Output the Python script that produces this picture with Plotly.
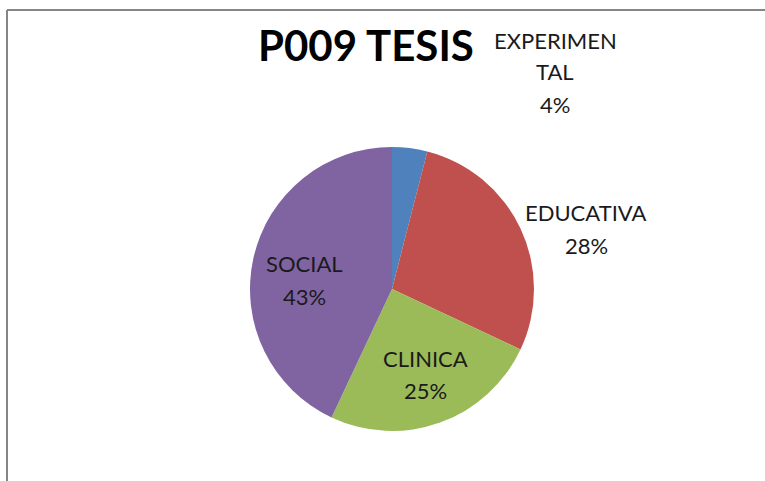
import plotly.graph_objects as go

# Data
categories = ["EXPERIMENTAL", "EDUCATIVA", "CLINICA", "SOCIAL"]
values = [4, 28, 25, 43]
colors = ["#4F81BD", "#C0504D", "#9BBB59", "#8064A2"]
title_text = "P009 TESIS"

W, H = 765, 481
total = sum(values)
pcts = [f"{round(v / total * 100)}%" for v in values]

# Display text lines for each slice (first label wraps like the original)
lines = [
    [categories[0][:9], categories[0][9:], pcts[0]],
    [categories[1], pcts[1]],
    [categories[2], pcts[2]],
    [categories[3], pcts[3]],
]
# label anchor positions in pixels (center x, list of line centers y)
label_pos = [
    (555, [40, 71, 104]),
    (586, [213, 245]),
    (425, [358, 390]),
    (304, [263, 296]),
]

cx, cy, r = 392, 289, 142

fig = go.Figure(
    go.Pie(
        labels=categories,
        values=values,
        sort=False,
        direction="clockwise",
        rotation=0,
        marker=dict(colors=colors, line=dict(width=0)),
        textinfo="none",
        hoverinfo="skip",
        showlegend=False,
        domain=dict(
            x=[(cx - r) / W, (cx + r) / W],
            y=[(H - cy - r) / H, (H - cy + r) / H],
        ),
    )
)

annotations = [
    dict(
        text=f"<b>{title_text}</b>",
        x=366 / W, y=1 - 45 / H, xref="paper", yref="paper",
        xanchor="center", yanchor="middle", showarrow=False,
        font=dict(family="Lato", size=42, color="#000000"),
    )
]
for (px, ys), ls in zip(label_pos, lines):
    for yy, t in zip(ys, ls):
        annotations.append(dict(
            text=t, x=px / W, y=1 - yy / H, xref="paper", yref="paper",
            xanchor="center", yanchor="middle", showarrow=False,
            font=dict(family="Lato", size=22, color="#1a1a1a"),
        ))

shapes = [
    dict(type="line", xref="paper", yref="paper",
         x0=7 / W, x1=1.0, y0=1 - 10 / H, y1=1 - 10 / H,
         line=dict(color="#868686", width=2)),
    dict(type="line", xref="paper", yref="paper",
         x0=7 / W, x1=7 / W, y0=0, y1=1 - 10 / H,
         line=dict(color="#868686", width=2)),
]

fig.update_layout(
    width=W, height=H,
    margin=dict(l=0, r=0, t=0, b=0),
    paper_bgcolor="white",
    plot_bgcolor="white",
    annotations=annotations,
    shapes=shapes,
)

fig.write_html(
    "out.html",
    config={"displayModeBar": False},
    post_script="document.body.style.margin='0px';document.body.style.overflow='hidden';",
)
